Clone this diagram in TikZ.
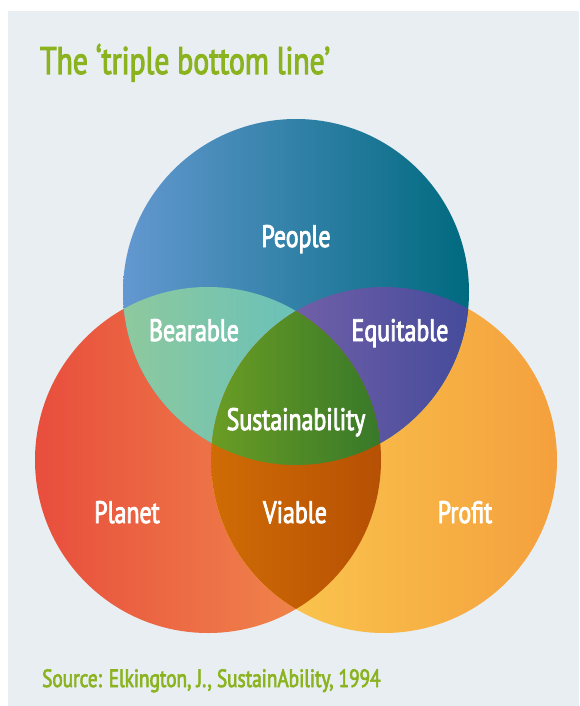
\documentclass[tikz,border=0pt]{standalone}
\usepackage{fontspec}
\setmainfont{PT Sans}[FakeStretch=0.78]
\newfontfamily\medfont{PT Sans}[FakeStretch=0.77, FakeBold=2.6]
\definecolor{panel}{HTML}{E8EEF1}
\definecolor{titlegreen}{HTML}{8BB31F}
\definecolor{planetL}{HTML}{E84E3C}
\definecolor{planetR}{HTML}{F29450}
\definecolor{profitL}{HTML}{FCCE52}
\definecolor{profitR}{HTML}{F4A03D}
\definecolor{peopleL}{HTML}{6398D0}
\definecolor{peopleM}{HTML}{0088B6}
\definecolor{peopleR}{HTML}{006A7F}
\definecolor{bearL}{HTML}{8EC99D}
\definecolor{bearR}{HTML}{68C1BA}
\definecolor{equiL}{HTML}{7260A8}
\definecolor{equiR}{HTML}{444B9B}
\definecolor{viaL}{HTML}{D06C05}
\definecolor{viaR}{HTML}{B65004}
\definecolor{sustL}{HTML}{6B9D24}
\definecolor{sustR}{HTML}{377829}
\begin{document}
\begin{tikzpicture}[x=1pt,y=-1pt,
  lbl/.style={text=white, font=\medfont\fontsize{31}{31}\selectfont, inner sep=0pt, anchor=base},
  heading/.style={text=titlegreen, font=\medfont\fontsize{38.5}{38.5}\selectfont, inner sep=0pt, anchor=base west},
  credit/.style={text=titlegreen, font=\medfont\fontsize{25}{25}\selectfont, inner sep=0pt, anchor=base west}]

\useasboundingbox (0,0) rectangle (579,706);
\fill[panel] (8,11) rectangle (579,706);

% the three circles
\def\peoplec{(296,292) circle[radius=173pt]}
\def\planetc{(208,460) circle[radius=173pt]}
\def\profitc{(384,460) circle[radius=173pt]}

\shade[left color=planetL, right color=planetR] \planetc;
\shade[left color=profitL, right color=profitR] \profitc;
\shade[left color=peopleL, middle color=peopleM, right color=peopleR] \peoplec;

% People and Planet
\begin{scope}
  \clip \peoplec; \clip \planetc;
  \shade[left color=bearL, right color=bearR] (122,280) rectangle (305,470);
\end{scope}
% People and Profit
\begin{scope}
  \clip \peoplec; \clip \profitc;
  \shade[left color=equiL, right color=equiR] (288,280) rectangle (470,470);
\end{scope}
% Planet and Profit
\begin{scope}
  \clip \planetc; \clip \profitc;
  \shade[left color=viaL, right color=viaR] (210,300) rectangle (382,620);
\end{scope}
% all three
\begin{scope}
  \clip \peoplec; \clip \planetc; \clip \profitc;
  \shade[left color=sustL, right color=sustR] (210,300) rectangle (382,470);
\end{scope}

\node[heading] (title) at (40,74) {The ‘triple bottom line’};

\node[lbl] (people) at (296,247) {People};
\node[lbl] (bearable) at (194,341) {Bearable};
\node[lbl] (equitable) at (400,341) {Equitable};
\node[lbl] (sustain) at (296,430) {Sustainability};
\node[lbl] (planet) at (127,523) {Planet};
\node[lbl] (viable) at (295,523) {Viable};
\node[lbl] (profit) at (465,523) {Profit};

\node[credit] (source) at (42,687) {Source: Elkington, J., SustainAbility, 1994};
\end{tikzpicture}
\end{document}
